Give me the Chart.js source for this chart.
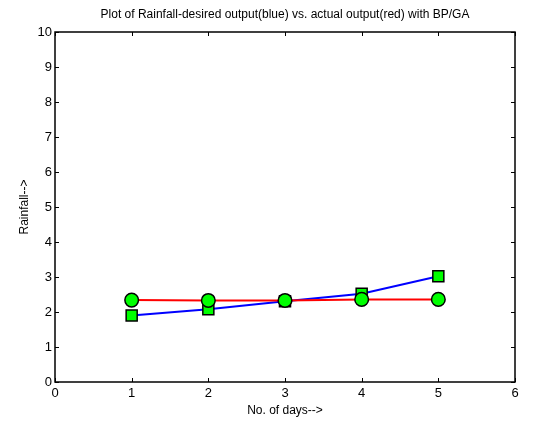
<!DOCTYPE html>
<html>
<head>
<meta charset="utf-8">
<script src="https://cdn.jsdelivr.net/npm/chart.js@4"></script>
<style>
  body { margin: 0; background: #fff; }
  #wrap { width: 540px; height: 422px; position: relative; }
</style>
</head>
<body>
<div id="wrap"><canvas id="rainChart"></canvas></div>
<script>
// valeurs
const days = [1, 2, 3, 4, 5];
const desiredOutput = [1.9, 2.08, 2.31, 2.52, 3.02];
const actualOutput = [2.34, 2.33, 2.33, 2.36, 2.36];
const xTicks = [0, 1, 2, 3, 4, 5, 6];
const yTicks = [0, 1, 2, 3, 4, 5, 6, 7, 8, 9, 10];

const FONT = 'Liberation Sans, Arial, Helvetica, sans-serif';

// petits traits vers l'interieur + cadre, facon matlab
const matlabBox = {
    id: 'matlabBox',
    afterDraw(chart) {
        const { ctx, chartArea: a, scales } = chart;
        const len = 4;
        ctx.save();
        ctx.strokeStyle = '#000';
        ctx.lineWidth = 1;
        ctx.beginPath();
        xTicks.forEach(v => {
            const px = Math.round(scales.x.getPixelForValue(v)) + 0.5;
            ctx.moveTo(px, a.bottom); ctx.lineTo(px, a.bottom - len);
            ctx.moveTo(px, a.top); ctx.lineTo(px, a.top + len);
        });
        yTicks.forEach(v => {
            const py = Math.round(scales.y.getPixelForValue(v)) + 0.5;
            ctx.moveTo(a.left, py); ctx.lineTo(a.left + len, py);
            ctx.moveTo(a.right, py); ctx.lineTo(a.right - len, py);
        });
        ctx.stroke();
        ctx.lineWidth = 1.5;
        ctx.strokeRect(a.left, a.top, a.right - a.left, a.bottom - a.top);
        ctx.restore();
    }
};

const ctx = document.getElementById('rainChart');
new Chart(ctx, {
    type: 'line',
    data: {
        datasets: [{
            label: 'desired',
            data: days.map((d, i) => ({ x: d, y: desiredOutput[i] })),
            borderColor: '#0000ff',
            borderWidth: 2,
            pointStyle: 'rect',
            pointRadius: 7.8,
            pointBackgroundColor: '#00ff00',
            pointBorderColor: '#000',
            pointBorderWidth: 1.5,
            order: 1
        }, {
            label: 'actual',
            data: days.map((d, i) => ({ x: d, y: actualOutput[i] })),
            borderColor: '#ff0000',
            borderWidth: 2,
            pointStyle: 'circle',
            pointRadius: 6.8,
            pointBackgroundColor: '#00ff00',
            pointBorderColor: '#000',
            pointBorderWidth: 1.5,
            order: 0
        }]
    },
    options: {
        responsive: true,
        maintainAspectRatio: false,
        animation: false,
        layout: { padding: { right: 25, left: 13, top: 0, bottom: 0 } },
        scales: {
            x: {
                type: 'linear',
                min: 0,
                max: 6,
                afterFit: s => { s.height = 40; },
                afterBuildTicks: s => { s.ticks = xTicks.map(v => ({ value: v })); },
                ticks: { color: '#000', font: { family: FONT, size: 13 }, padding: 4 },
                grid: { drawOnChartArea: false, drawTicks: false },
                border: { display: false },
                title: {
                    display: true,
                    text: 'No. of days-->',
                    color: '#000',
                    font: { family: FONT, size: 12 },
                    padding: { top: 5 }
                }
            },
            y: {
                min: 0,
                max: 10,
                afterFit: s => { s.width = 42; },
                afterBuildTicks: s => { s.ticks = yTicks.map(v => ({ value: v })); },
                ticks: { color: '#000', font: { family: FONT, size: 13 }, padding: 3 },
                grid: { drawOnChartArea: false, drawTicks: false },
                border: { display: false },
                title: {
                    display: true,
                    text: 'Rainfall-->',
                    color: '#000',
                    font: { family: FONT, size: 12 },
                    padding: { bottom: 0 }
                }
            }
        },
        plugins: {
            legend: { display: false },
            tooltip: { enabled: false },
            title: {
                display: true,
                fullSize: false,
                text: 'Plot of Rainfall-desired output(blue) vs. actual output(red) with BP/GA',
                color: '#000',
                font: { family: FONT, size: 12, weight: 'normal' },
                padding: { top: 7, bottom: 10.6 }
            }
        }
    },
    plugins: [matlabBox]
});
</script>
</body>
</html>
